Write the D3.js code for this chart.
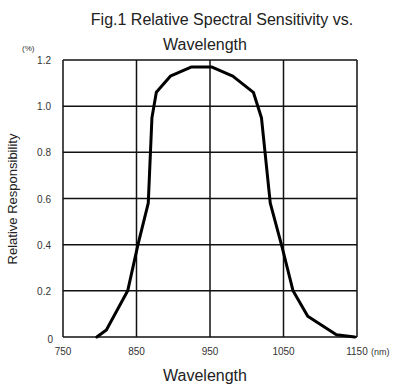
<html>
<body style="margin:0;background:#fff">
<svg id="chart"></svg>
<script src="https://d3js.org/d3.v7.min.js"></script>
<script>
// wavelength (nm) and relative sensitivity
var wavelengths = [796, 809, 838, 852, 866, 871, 877, 896, 925, 952, 981, 1009, 1020, 1032, 1048, 1063, 1083, 1122, 1147];
var sensitivity = [0, 0.03, 0.2, 0.4, 0.58, 0.95, 1.06, 1.13, 1.17, 1.17, 1.13, 1.06, 0.95, 0.58, 0.39, 0.2, 0.09, 0.01, 0];
var xTicks = [750, 850, 950, 1050, 1150];
var yTicks = [0, 0.2, 0.4, 0.6, 0.8, 1.0, 1.2];

var width = 399, height = 386;
var margins = {top: 60, left: 63, right: 42, bottom: 49};
var font = "'Liberation Sans', Arial, sans-serif";

var svg = d3.select("#chart")
    .attr("width", width)
    .attr("height", height);

var xScale = d3.scaleLinear()
    .domain([750, 1150])
    .range([margins.left, width - margins.right]);

var yScale = d3.scaleLinear()
    .domain([0, 1.2])
    .range([height - margins.bottom, margins.top]);

// grid
var grid = svg.append("g").attr("stroke", "#111").attr("stroke-width", 1.5);
grid.selectAll(".vx")
    .data(xTicks)
    .enter().append("line")
    .attr("x1", function(d) { return xScale(d); })
    .attr("x2", function(d) { return xScale(d); })
    .attr("y1", yScale(0))
    .attr("y2", yScale(1.2));
grid.selectAll(".hy")
    .data(yTicks)
    .enter().append("line")
    .attr("y1", function(d) { return yScale(d); })
    .attr("y2", function(d) { return yScale(d); })
    .attr("x1", xScale(750))
    .attr("x2", xScale(1150));

// curve, drawn as a polyline like the scanned original
var points = wavelengths.map(function(w, i) { return [w, sensitivity[i]]; });
var line = d3.line()
    .x(function(d) { return xScale(d[0]); })
    .y(function(d) { return yScale(d[1]); });

svg.append("path")
    .datum(points)
    .attr("d", line)
    .attr("fill", "none")
    .attr("stroke", "#000")
    .attr("stroke-width", 3)
    .attr("stroke-linejoin", "round")
    .attr("stroke-linecap", "round");

// tick labels
svg.selectAll(".ylab")
    .data(yTicks)
    .enter().append("text")
    .attr("x", function(d) { return d == 0 ? 53 : 51; })
    .attr("y", function(d) { return d == 0 ? yScale(d) + 6 : yScale(d) + 4; })
    .attr("text-anchor", "end")
    .attr("font-family", font)
    .attr("font-size", 10)
    .attr("fill", "#333")
    .text(function(d) { return d == 0 ? "0" : d.toFixed(1); });

svg.selectAll(".xlab")
    .data(xTicks)
    .enter().append("text")
    .attr("x", function(d) { return xScale(d); })
    .attr("y", 355)
    .attr("text-anchor", "middle")
    .attr("font-family", font)
    .attr("font-size", 10)
    .attr("fill", "#333")
    .text(function(d) { return d; });

svg.append("text")
    .attr("x", 371)
    .attr("y", 355)
    .attr("font-family", font)
    .attr("font-size", 9)
    .attr("fill", "#333")
    .text("(nm)");

svg.append("text")
    .attr("x", 22)
    .attr("y", 51)
    .attr("font-family", font)
    .attr("font-size", 8)
    .attr("fill", "#333")
    .text("(%)");

// titles
svg.append("text")
    .attr("x", 222)
    .attr("y", 25)
    .attr("text-anchor", "middle")
    .attr("font-family", font)
    .attr("font-size", 16)
    .attr("fill", "#222")
    .text("Fig.1 Relative Spectral Sensitivity vs.");

svg.append("text")
    .attr("x", 205)
    .attr("y", 50)
    .attr("text-anchor", "middle")
    .attr("font-family", font)
    .attr("font-size", 16)
    .attr("fill", "#222")
    .text("Wavelength");

svg.append("text")
    .attr("x", 205)
    .attr("y", 381)
    .attr("text-anchor", "middle")
    .attr("font-family", font)
    .attr("font-size", 16)
    .attr("fill", "#222")
    .text("Wavelength");

svg.append("text")
    .attr("transform", "translate(17,199) rotate(-90)")
    .attr("text-anchor", "middle")
    .attr("font-family", font)
    .attr("font-size", 13)
    .attr("fill", "#222")
    .text("Relative Responsibility");
</script>
</body>
</html>
